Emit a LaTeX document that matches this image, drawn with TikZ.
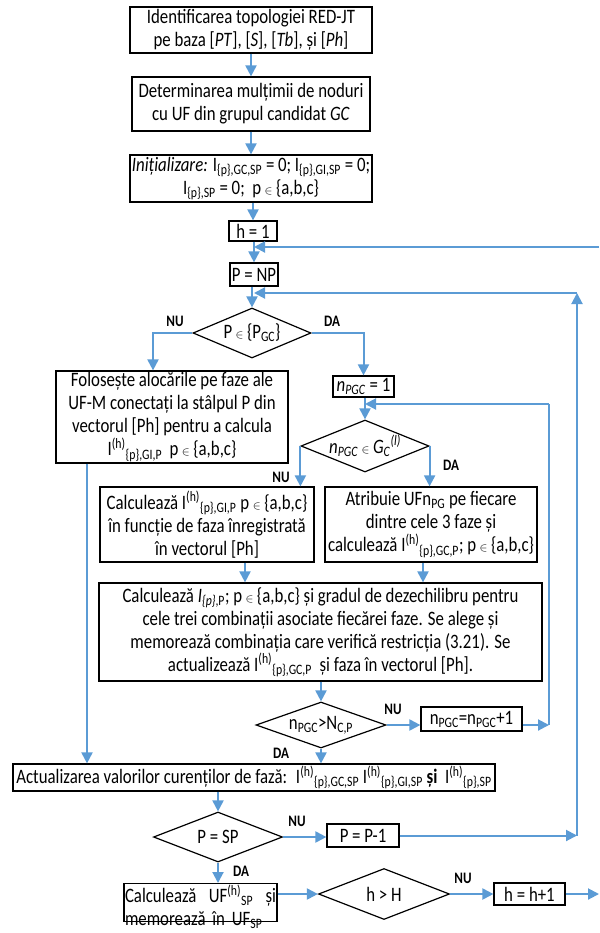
\documentclass[tikz,border=0pt]{standalone}
\usepackage{fontspec}
\setmainfont{Carlito}[FakeStretch=0.82]
\usepackage{tikz}
\usetikzlibrary{shapes.geometric, arrows.meta}

\definecolor{flowblue}{HTML}{5B9BD5}
\newcommand{\elemof}{{\fontsize{13}{13}\selectfont$\in$}}

\begin{document}
\begin{tikzpicture}[x=1pt, y=-1pt, font=\fontsize{20.5}{23}\selectfont]
  \tikzstyle{box}=[draw, line width=1.2pt, align=center, inner sep=1pt]
  \tikzstyle{test}=[draw, line width=1.2pt, diamond, aspect=2.4, inner sep=0pt]
  \tikzstyle{lbl}=[font=\fontsize{16}{18}\selectfont\bfseries]
  \tikzstyle{flow}=[draw=flowblue, line width=2pt, -{Triangle[length=11pt,width=11pt]}]
  \useasboundingbox (0,0) rectangle (599,933);
  \node[box, minimum width=242, minimum height=46] (S_1) at (251,30) {Identificarea topologiei RED-JT\\pe baza [\textit{PT}], [\textit{S}], [\textit{Tb}], și [\textit{Ph}]};
  \node[box, minimum width=238, minimum height=54] (S_2) at (251,104) {Determinarea mulțimii de noduri\\cu UF din grupul candidat \textit{GC}};
  \node[box, minimum width=242, minimum height=47] (S_3) at (251,178.5) {\textit{Inițializare:} I\textsubscript{\{p\},GC,SP} = 0; I\textsubscript{\{p\},GI,SP} = 0;\\I\textsubscript{\{p\},SP} = 0;~ p\,\elemof\,\{a,b,c\}};
  \node[box, minimum width=48, minimum height=20] (S_4) at (253,231) {h = 1};
  \node[box, minimum width=48, minimum height=23] (S_5) at (254,274.5) {P = NP};
  \node[test, minimum width=118, minimum height=50] (D_1) at (252,333) {P\,\elemof\,\{P\textsubscript{GC}\}};
  \node[box, minimum width=232, minimum height=92] (F_1) at (172,417) {Folosește alocările pe faze ale\\UF-M conectați la stâlpul P din\\vectorul [Ph] pentru a calcula\\I\textsuperscript{(h)}\textsubscript{\{p\},GI,P}~~p\,\elemof\,\{a,b,c\}};
  \node[box, minimum width=61, minimum height=21] (N_1) at (363.5,386.5) {\textit{n}\textsubscript{\textit{PGC}} = 1};
  \node[test, minimum width=128, minimum height=52] (D_2) at (365,446) {\textit{n}\textsubscript{\textit{PGC}}\,\elemof\,\textit{G}\textsubscript{\textit{C}}\textsuperscript{\textit{(l)}}};
  \node[box, minimum width=214, minimum height=75] (C_1) at (207,524.5) {Calculează I\textsuperscript{(h)}\textsubscript{\{p\},GI,P} p~\elemof\,\{a,b,c\}\\în funcție de faza înregistrată\\în vectorul [Ph]};
  \node[box, minimum width=212, minimum height=75] (C_2) at (431,524.5) {Atribuie UFn\textsubscript{PG} pe fiecare\\dintre cele 3 faze și\\calculează I\textsuperscript{(h)}\textsubscript{\{p\},GC,P}; p\,\elemof\,\{a,b,c\}};
  \node[box, minimum width=443, minimum height=98] (B_1) at (320.5,632) {Calculează \textit{I}\textsubscript{\textit{\{p\}},P}; p\,\elemof\,\{a,b,c\} și gradul de dezechilibru pentru\\cele trei combinații asociate fiecărei faze. Se alege și\\memorează combinația care verifică restricția (3.21). Se\\actualizează I\textsuperscript{(h)}\textsubscript{\{p\},GC,P}~ și faza în vectorul [Ph].};
  \node[test, minimum width=130, minimum height=46] (D_3) at (321,725) {n\textsubscript{PGC}>N\textsubscript{C,P}};
  \node[box, minimum width=101, minimum height=24] (I_1) at (471.5,719) {n\textsubscript{PGC}=n\textsubscript{PGC}+1};
  \node[box, minimum width=482, minimum height=27] (A_1) at (254,777.5) {Actualizarea valorilor curenților de fază:~ I\textsuperscript{(h)}\textsubscript{\{p\},GC,SP} I\textsuperscript{(h)}\textsubscript{\{p\},GI,SP} \textbf{și}~ I\textsuperscript{(h)}\textsubscript{\{p\},SP}};
  \node[test, minimum width=129, minimum height=50] (D_4) at (218,837) {P = SP};
  \node[box, minimum width=72, minimum height=23] (P_1) at (363,835.5) {P = P-1};
  \node[box, anchor=north, text width=151pt, align=left, text depth=18pt] (U_1) at (200.5,883) {Calculează\hfill UF\textsuperscript{(h)}\textsubscript{SP}\hfill și\\memorează în UF\textsubscript{SP}};
  \node[test, minimum width=131, minimum height=51] (D_5) at (384,894) {h > H};
  \node[box, minimum width=71, minimum height=22] (H_1) at (529.5,894) {h = h+1};
  \coordinate (R_1) at (599,247);
  \coordinate (R_2) at (577,293);
  \coordinate (R_3) at (549,404);
  \coordinate (R_4) at (599,894);
  % main line
  \draw[flow] (S_1) -- (S_2);
  \draw[flow] (S_2) -- (S_3);
  \draw[flow] (S_4 |- S_3.south) -- (S_4.north);
  \draw[flow] (S_5 |- S_4.south) -- (S_5.north);
  \draw[flow] (R_1) -- (R_1 -| S_5);
  \draw[flow] (D_1 |- S_5.south) -- (D_1.north);
  % first test
  \draw[flow] (D_1.west) -| ([xshift=-19pt]F_1.north);
  \draw[flow] (D_1.east) -| (N_1.north);
  \node[lbl] (L_1) at (175,321) {NU};
  \node[lbl] (L_2) at (332,321) {DA};
  \draw[flow] (D_2 |- N_1.south) -- (D_2.north);
  \draw[flow] (D_2.west) -- (D_2.west |- C_1.north);
  \draw[flow] (D_2.east) -- (D_2.east |- C_2.north);
  \node[lbl] (L_3) at (281,477) {NU};
  \node[lbl] (L_4) at (451,465) {DA};
  \draw[flow] ([xshift=38pt]C_1.south) -- ([xshift=38pt]C_1.south |- B_1.north);
  \draw[flow] ([xshift=-8pt]C_2.south) -- ([xshift=-8pt]C_2.south |- B_1.north);
  \draw[flow] (D_3 |- B_1.south) -- (D_3.north);
  % inner loop
  \draw[flow] (D_3.east) -- (D_3.east -| I_1.west);
  \draw[flow] (D_3.east -| I_1.east) -- (D_3.east -| R_3);
  \draw[draw=flowblue, line width=1.6pt] (D_3.east -| R_3) -- (R_3);
  \draw[flow] (R_3) -- (R_3 -| D_2);
  \node[lbl] (L_5) at (393,709) {NU};
  \node[lbl] (L_6) at (281,753) {DA};
  \draw[flow] (D_3.south) -- (D_3.south |- A_1.north);
  \draw[flow] ([xshift=-85pt]F_1.south) -- ([xshift=-85pt]F_1.south |- A_1.north);
  \draw[flow] (D_4 |- A_1.south) -- (D_4.north);
  % outer loop
  \draw[flow] (D_4.east) -- (D_4.east -| P_1.west);
  \draw[flow] (P_1.east) -- (P_1.east -| R_2);
  \draw[flow] (P_1.east -| R_2) -- (R_2);
  \draw[flow] (R_2) -- (R_2 -| S_5);
  \node[lbl] (L_7) at (297,821) {NU};
  \node[lbl] (L_8) at (241,871) {DA};
  \draw[flow] (D_4.south) -- (D_4.south |- U_1.north);
  \draw[flow] (D_5.west -| U_1.east) -- (D_5.west);
  \draw[flow] (D_5.east) -- (H_1.west);
  \node[lbl] (L_9) at (463,878) {NU};
  \draw[flow] (H_1.east) -- (R_4);
\end{tikzpicture}
\end{document}
